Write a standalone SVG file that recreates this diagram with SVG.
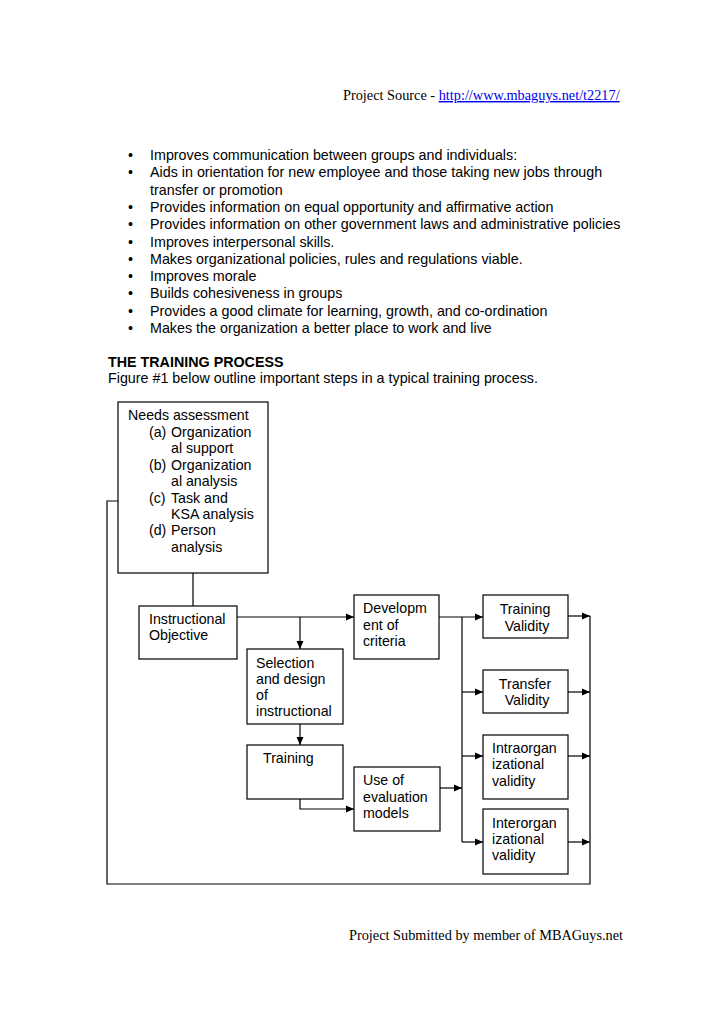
<svg xmlns="http://www.w3.org/2000/svg" width="728" height="1031" viewBox="0 0 728 1031">
<style>
.t{font-family:"Liberation Sans",Arial,sans-serif;font-size:14.2px;fill:#000}
.p{font-family:"Liberation Sans",Arial,sans-serif;font-size:14.3px;fill:#000}
.s{font-family:"Liberation Serif","Times New Roman",serif;font-size:14.3px;fill:#000}
.b{fill:#fff;stroke:#000;stroke-width:1.2}
.c{fill:none;stroke:#000;stroke-width:1.2}
</style>
<defs>
<marker id="a" viewBox="0 0 8 8" refX="8" refY="4" markerWidth="8" markerHeight="8" markerUnits="userSpaceOnUse" orient="auto"><path d="M0,0.5 L8,4 L0,7.5 Z" fill="#000"/></marker>
</defs>
<rect width="728" height="1031" fill="#fff"/>
<g id="header">
<text class="s" x="343" y="100">Project Source - <tspan fill="#0000ee" text-decoration="underline">http://www.mbaguys.net/t2217/</tspan></text>
</g>
<g id="bullets" class="p">
<text x="128" y="160">•</text><text x="150" y="160">Improves communication between groups and individuals:</text>
<text x="128" y="177">•</text><text x="150" y="177">Aids in orientation for new employee and those taking new jobs through</text>
<text x="150" y="194.5">transfer or promotion</text>
<text x="128" y="212">•</text><text x="150" y="212">Provides information on equal opportunity and affirmative action</text>
<text x="128" y="229">•</text><text x="150" y="229">Provides information on other government laws and administrative policies</text>
<text x="128" y="246.5">•</text><text x="150" y="246.5">Improves interpersonal skills.</text>
<text x="128" y="263.5">•</text><text x="150" y="263.5">Makes organizational policies, rules and regulations viable.</text>
<text x="128" y="281">•</text><text x="150" y="281">Improves morale</text>
<text x="128" y="298">•</text><text x="150" y="298">Builds cohesiveness in groups</text>
<text x="128" y="315.5">•</text><text x="150" y="315.5">Provides a good climate for learning, growth, and co-ordination</text>
<text x="128" y="333">•</text><text x="150" y="333">Makes the organization a better place to work and live</text>
</g>
<g id="heading" class="p">
<text x="108" y="367" font-weight="bold">THE TRAINING PROCESS</text>
<text x="108" y="383">Figure #1 below outline important steps in a typical training process.</text>
</g>
<g id="connectors">
<path class="c" d="M193,573 V606"/>
<path class="c" d="M237,617 H354" marker-end="url(#a)"/>
<path class="c" d="M300,617 V649" marker-end="url(#a)"/>
<path class="c" d="M300,724 V745" marker-end="url(#a)"/>
<path class="c" d="M300,799 V809 H354" marker-end="url(#a)"/>
<path class="c" d="M439,617 H483" marker-end="url(#a)"/>
<path class="c" d="M462,617 V842"/>
<path class="c" d="M462,692 H483" marker-end="url(#a)"/>
<path class="c" d="M462,756 H483" marker-end="url(#a)"/>
<path class="c" d="M462,842 H483" marker-end="url(#a)"/>
<path class="c" d="M440,788 H462" marker-end="url(#a)"/>
<path class="c" d="M568,616 H590" marker-end="url(#a)"/>
<path class="c" d="M568,692 H590" marker-end="url(#a)"/>
<path class="c" d="M568,756 H590" marker-end="url(#a)"/>
<path class="c" d="M568,842 H590" marker-end="url(#a)"/>
<path class="c" d="M590,616 V884 H107 V501 H118"/>
</g>
<g id="needs">
<rect class="b" x="118" y="402" width="150" height="171"/>
<text class="t" x="128" y="420">Needs assessment</text>
<text class="t" x="149" y="437">(a)</text><text class="t" x="171" y="437">Organization</text>
<text class="t" x="171" y="453">al support</text>
<text class="t" x="149" y="470">(b)</text><text class="t" x="171" y="470">Organization</text>
<text class="t" x="171" y="486">al analysis</text>
<text class="t" x="149" y="503">(c)</text><text class="t" x="171" y="503">Task and</text>
<text class="t" x="171" y="519">KSA analysis</text>
<text class="t" x="149" y="535">(d)</text><text class="t" x="171" y="535">Person</text>
<text class="t" x="171" y="552">analysis</text>
</g>
<g id="objective">
<rect class="b" x="139" y="606" width="98" height="53"/>
<text class="t" x="149" y="624">Instructional</text>
<text class="t" x="149" y="640">Objective</text>
</g>
<g id="development">
<rect class="b" x="354" y="595" width="85" height="64"/>
<text class="t" x="363" y="613">Developm</text>
<text class="t" x="363" y="630">ent of</text>
<text class="t" x="363" y="646">criteria</text>
</g>
<g id="selection">
<rect class="b" x="247" y="649" width="96" height="75"/>
<text class="t" x="256" y="668">Selection</text>
<text class="t" x="256" y="684">and design</text>
<text class="t" x="256" y="700">of</text>
<text class="t" x="256" y="716">instructional</text>
</g>
<g id="training">
<rect class="b" x="247" y="745" width="96" height="54"/>
<text class="t" x="263" y="763">Training</text>
</g>
<g id="evaluation">
<rect class="b" x="354" y="767" width="86" height="64"/>
<text class="t" x="363" y="785">Use of</text>
<text class="t" x="363" y="802">evaluation</text>
<text class="t" x="363" y="818">models</text>
</g>
<g id="training-validity">
<rect class="b" x="483" y="595" width="85" height="43"/>
<text class="t" x="525" y="614" text-anchor="middle">Training</text>
<text class="t" x="527" y="631" text-anchor="middle">Validity</text>
</g>
<g id="transfer-validity">
<rect class="b" x="483" y="670" width="85" height="43"/>
<text class="t" x="525" y="689" text-anchor="middle">Transfer</text>
<text class="t" x="527" y="705" text-anchor="middle">Validity</text>
</g>
<g id="intra">
<rect class="b" x="483" y="735" width="85" height="64"/>
<text class="t" x="492" y="753">Intraorgan</text>
<text class="t" x="492" y="769">izational</text>
<text class="t" x="492" y="786">validity</text>
</g>
<g id="inter">
<rect class="b" x="483" y="809" width="85" height="65"/>
<text class="t" x="492" y="828">Interorgan</text>
<text class="t" x="492" y="844">izational</text>
<text class="t" x="492" y="860">validity</text>
</g>
<g id="footer">
<text class="s" x="349" y="940">Project Submitted by member of MBAGuys.net</text>
</g>
</svg>
